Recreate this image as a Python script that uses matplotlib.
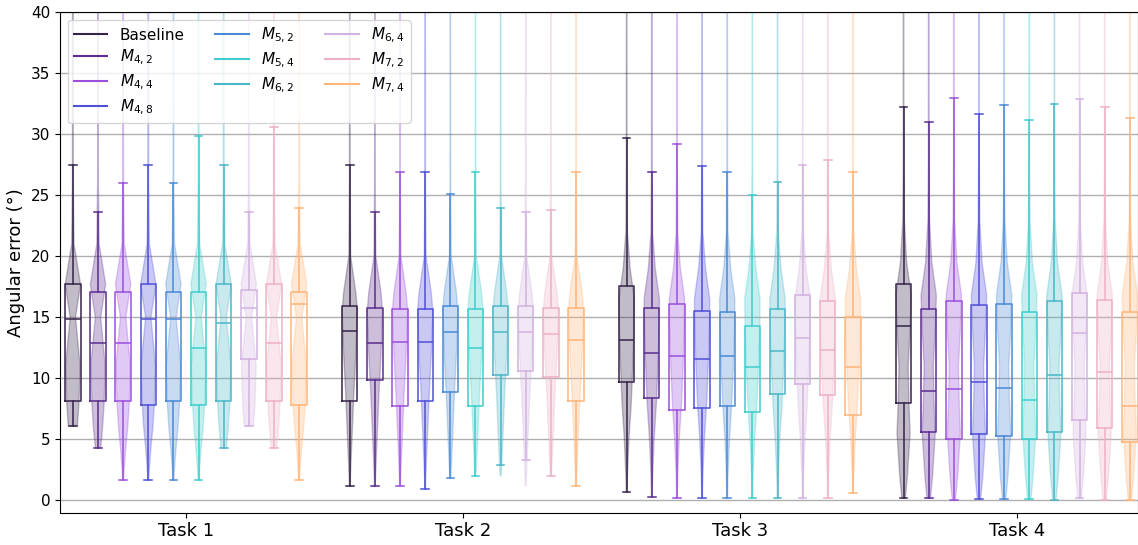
import numpy as np
import matplotlib
matplotlib.use("Agg")
import matplotlib.pyplot as plt
from matplotlib.lines import Line2D

# ---------------- data ----------------
tasks = ["Task 1", "Task 2", "Task 3", "Task 4"]
models = ["Baseline", r"$M_{4,2}$", r"$M_{4,4}$", r"$M_{4,8}$", r"$M_{5,2}$",
          r"$M_{5,4}$", r"$M_{6,2}$", r"$M_{6,4}$", r"$M_{7,2}$", r"$M_{7,4}$"]
colors = ["#35234a", "#5a2d8e", "#9b4fdc", "#4f4fd8", "#4a8ad6",
          "#3fcdcd", "#4ab7c6", "#d2b2e0", "#eeb0c6", "#ffb578"]

# box statistics  [task][model]
whishi = [[27.5, 23.6, 26.0, 27.5, 26.0, 29.9, 27.5, 23.6, 30.6, 24.0],
          [27.5, 23.6, 26.9, 26.9, 25.1, 26.9, 24.0, 23.6, 23.8, 26.9],
          [29.7, 26.9, 29.2, 27.4, 26.9, 25.0, 26.1, 27.5, 27.9, 26.9],
          [32.2, 31.0, 33.0, 31.7, 32.4, 31.2, 32.5, 32.9, 32.2, 31.3]]
q3 = [[17.7, 17.1, 17.1, 17.7, 17.1, 17.1, 17.7, 17.2, 17.7, 17.1],
      [15.9, 15.8, 15.7, 15.7, 15.9, 15.7, 15.9, 15.9, 15.8, 15.8],
      [17.6, 15.8, 16.1, 15.5, 15.4, 14.3, 15.7, 16.8, 16.3, 15.0],
      [17.7, 15.7, 16.3, 16.0, 16.1, 15.4, 16.3, 17.0, 16.4, 15.4]]
med = [[14.9, 12.9, 12.9, 14.9, 14.9, 12.5, 14.5, 15.8, 12.9, 16.1],
       [13.9, 12.9, 13.0, 13.0, 13.8, 12.5, 13.8, 13.8, 13.6, 13.1],
       [13.1, 12.1, 11.8, 11.6, 11.8, 10.9, 12.2, 13.3, 12.3, 10.9],
       [14.3, 9.0, 9.1, 9.7, 9.2, 8.2, 10.3, 13.7, 10.5, 7.7]]
q1 = [[8.1, 8.1, 8.1, 7.8, 8.1, 7.8, 8.1, 11.6, 8.1, 7.8],
      [8.1, 9.9, 7.7, 8.1, 8.9, 7.7, 10.3, 10.6, 10.1, 8.1],
      [9.7, 8.4, 7.4, 7.6, 7.7, 7.2, 8.7, 9.5, 8.6, 7.0],
      [8.0, 5.6, 5.0, 5.4, 5.3, 5.0, 5.6, 6.6, 5.9, 4.8]]
whislo = [[6.1, 4.3, 1.7, 1.7, 1.7, 1.7, 4.3, 6.1, 4.3, 1.7],
          [1.2, 1.2, 1.2, 0.9, 1.8, 2.0, 2.9, 3.3, 2.0, 1.2],
          [0.7, 0.3, 0.2, 0.2, 0.2, 0.2, 0.2, 0.2, 0.2, 0.6],
          [0.2, 0.2, 0.05, 0.1, 0.1, 0.1, 0.05, 0.2, 0.05, 0.05]]

# violin outlines: per-task density profile (levels and relative widths)
violin_levels = [[2, 4, 6, 8, 11, 15, 17.7, 21, 26, 60],
                 [1.5, 3, 6, 9, 12, 15.5, 17, 20, 26, 60],
                 [1, 2, 5, 8, 11, 14, 16.5, 19, 22, 28, 60],
                 [0.3, 2, 5.5, 8, 11, 14, 16.8, 19.5, 23, 28, 60]]
violin_widths = [[0.08, 0.3, 0.6, 0.8, 0.95, 0.35, 1.0, 0.15, 0.05, 0.02],
                 [0.06, 0.15, 0.35, 0.55, 0.8, 1.0, 0.8, 0.12, 0.04, 0.02],
                 [0.06, 0.1, 0.3, 0.6, 0.8, 0.95, 1.0, 0.45, 0.1, 0.04, 0.02],
                 [0.25, 0.5, 0.85, 0.7, 0.6, 0.85, 1.0, 0.4, 0.1, 0.04, 0.02]]
violin_min = [[6.1, 4.3, 1.7, 1.7, 1.7, 1.7, 4.3, 6.1, 4.3, 1.7],
              [1.2, 1.2, 1.2, 0.9, 1.8, 2.0, 2.0, 1.2, 2.0, 1.2],
              [0.7, 0.3, 0.2, 0.2, 0.2, 0.2, 0.2, 0.2, 0.2, 0.6],
              [0.2, 0.2, 0.05, 0.1, 0.1, 0.1, 0.05, 0.2, 0.05, 0.05]]
violin_min_width = [[0.6, 0.35, 0.06, 0.06, 0.06, 0.06, 0.35, 0.6, 0.35, 0.06],
                    [0.05] * 10,
                    [0.05] * 10,
                    [0.2] * 10]

# ---------------- layout ----------------
W, H = 1138, 545
fig = plt.figure(figsize=(W / 100, H / 100), dpi=100)
ax = fig.add_axes([60 / W, (H - 512.5) / H, (W - 60) / W, 500.2 / H])

step = 0.0908
box_w = 0.0553

for k, (name, c) in enumerate(zip(models, colors)):
    pos = [t + (k - 4.5) * step for t in range(len(tasks))]
    # violins
    vstats = []
    for t in range(len(tasks)):
        vmin = violin_min[t][k]
        coords = [vmin] + [y for y in violin_levels[t] if y > vmin]
        vals = [violin_min_width[t][k]] + [w for y, w in zip(violin_levels[t], violin_widths[t]) if y > vmin]
        vstats.append(dict(coords=np.array(coords), vals=np.array(vals),
                           mean=med[t][k], median=med[t][k],
                           min=coords[0], max=coords[-1], quantiles=[]))
    parts = ax.violin(vstats, positions=pos, widths=box_w,
                      showmeans=False, showextrema=False, showmedians=False)
    for b in parts["bodies"]:
        b.set_facecolor(c)
        b.set_edgecolor(c)
        b.set_alpha(0.3)
        b.set_linewidth(1.0)
        b.set_zorder(2)
    # boxes
    bstats = [dict(med=med[t][k], q1=q1[t][k], q3=q3[t][k],
                   whislo=whislo[t][k], whishi=whishi[t][k], fliers=[])
              for t in range(len(tasks))]
    lp = dict(color=c, linewidth=1.1)
    ax.bxp(bstats, positions=pos, widths=box_w, showfliers=False,
           boxprops=lp, whiskerprops=lp, capprops=lp, medianprops=lp,
           manage_ticks=False, zorder=3)

ax.set_xlim(-0.455, 3.438)
ax.set_ylim(-1, 40)
ax.set_xticks(range(len(tasks)))
ax.set_xticklabels(tasks, fontsize=13)
ax.set_yticks(range(0, 41, 5))
ax.tick_params(axis="y", labelsize=11)
ax.set_ylabel("Angular error (°)", fontsize=13)
ax.yaxis.grid(True, color="#b0b0b0", linewidth=1.0)
ax.set_axisbelow(True)

handles = [Line2D([0], [0], color=c, lw=1.5) for c in colors]
ax.legend(handles, models, loc="upper left", ncol=3, fontsize=11,
          borderaxespad=0.5, columnspacing=2.0, labelspacing=0.35,
          handlelength=2.2)

fig.savefig("out.png", dpi=100)
